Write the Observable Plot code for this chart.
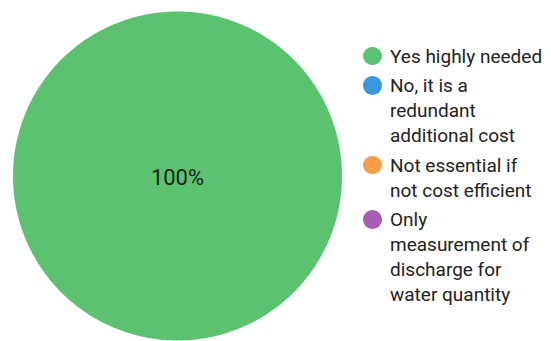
<!DOCTYPE html>
<html>
<head>
<meta charset="utf-8">
<script src="https://cdn.jsdelivr.net/npm/d3@7"></script>
<script src="https://cdn.jsdelivr.net/npm/@observablehq/plot@0.6"></script>
<style>
  html, body { margin: 0; padding: 0; background: #fff; }
  #wrap { position: relative; width: 551px; height: 341px; overflow: hidden; font-family: Roboto, "Noto Sans", sans-serif; }
  #chart { position: absolute; left: 0; top: 0; }
  #legend { position: absolute; left: 363px; top: 43.5px; color: #222; font-size: 19px; line-height: 25px; }
  .item { display: flex; align-items: flex-start; margin-bottom: 4.5px; }
  .sw { width: 18.5px; height: 18.5px; border-radius: 50%; flex: none; margin-top: 3.3px; margin-right: 8.5px; }
  .lbl { white-space: pre-line; }
</style>
</head>
<body>
<div id="wrap"><div id="chart"></div><div id="legend"></div></div>
<script>
const categories = ["Yes highly needed", "No, it is a\nredundant\nadditional cost", "Not essential if\nnot cost efficient", "Only\nmeasurement of\ndischarge for\nwater quantity"];
const values = [100, 0, 0, 0];
const colors = ["#5cc26f", "#3a97dd", "#f89c48", "#a65db3"];

const total = d3.sum(values);
const pie = d3.pie().sort(null).value(d => d.value);
const arcs = pie(categories.map((c, i) => ({key: c, value: values[i], color: colors[i]})));

const pts = [];
const labels = [];
for (const a of arcs) {
  if (a.endAngle - a.startAngle <= 0) continue;
  const n = Math.max(2, Math.ceil((a.endAngle - a.startAngle) / (Math.PI * 2) * 720));
  const full = (a.endAngle - a.startAngle) >= Math.PI * 2 - 1e-9;
  if (!full) pts.push({key: a.data.key, color: a.data.color, x: 0, y: 0});
  for (let k = 0; k <= n; k++) {
    const t = a.startAngle + (a.endAngle - a.startAngle) * k / n;
    pts.push({key: a.data.key, color: a.data.color, x: Math.sin(t), y: Math.cos(t)});
  }
  const mid = (a.startAngle + a.endAngle) / 2;
  const rr = full ? 0 : 0.6;
  labels.push({x: rr * Math.sin(mid), y: rr * Math.cos(mid), text: d3.format(".0%")(a.data.value / total)});
}

const chart = Plot.plot({
  width: 551,
  height: 341,
  marginLeft: 12.5,
  marginRight: 209.5,
  marginTop: 11,
  marginBottom: 1,
  x: {domain: [-1, 1], axis: null},
  y: {domain: [-1, 1], axis: null},
  style: {fontFamily: "Roboto, 'Noto Sans', sans-serif", background: "transparent"},
  marks: [
    Plot.line(pts, {x: "x", y: "y", z: "key", fill: "color", stroke: null, curve: "linear"}),
    Plot.text(labels, {x: "x", y: "y", text: "text", fontSize: 22, fill: "#1e1e1e", dy: 2})
  ]
});
document.getElementById("chart").appendChild(chart);

const legend = document.getElementById("legend");
categories.forEach((c, i) => {
  const it = document.createElement("div");
  it.className = "item";
  const sw = document.createElement("div");
  sw.className = "sw";
  sw.style.background = colors[i];
  const lb = document.createElement("div");
  lb.className = "lbl";
  lb.textContent = c;
  it.appendChild(sw);
  it.appendChild(lb);
  legend.appendChild(it);
});
</script>
</body>
</html>
